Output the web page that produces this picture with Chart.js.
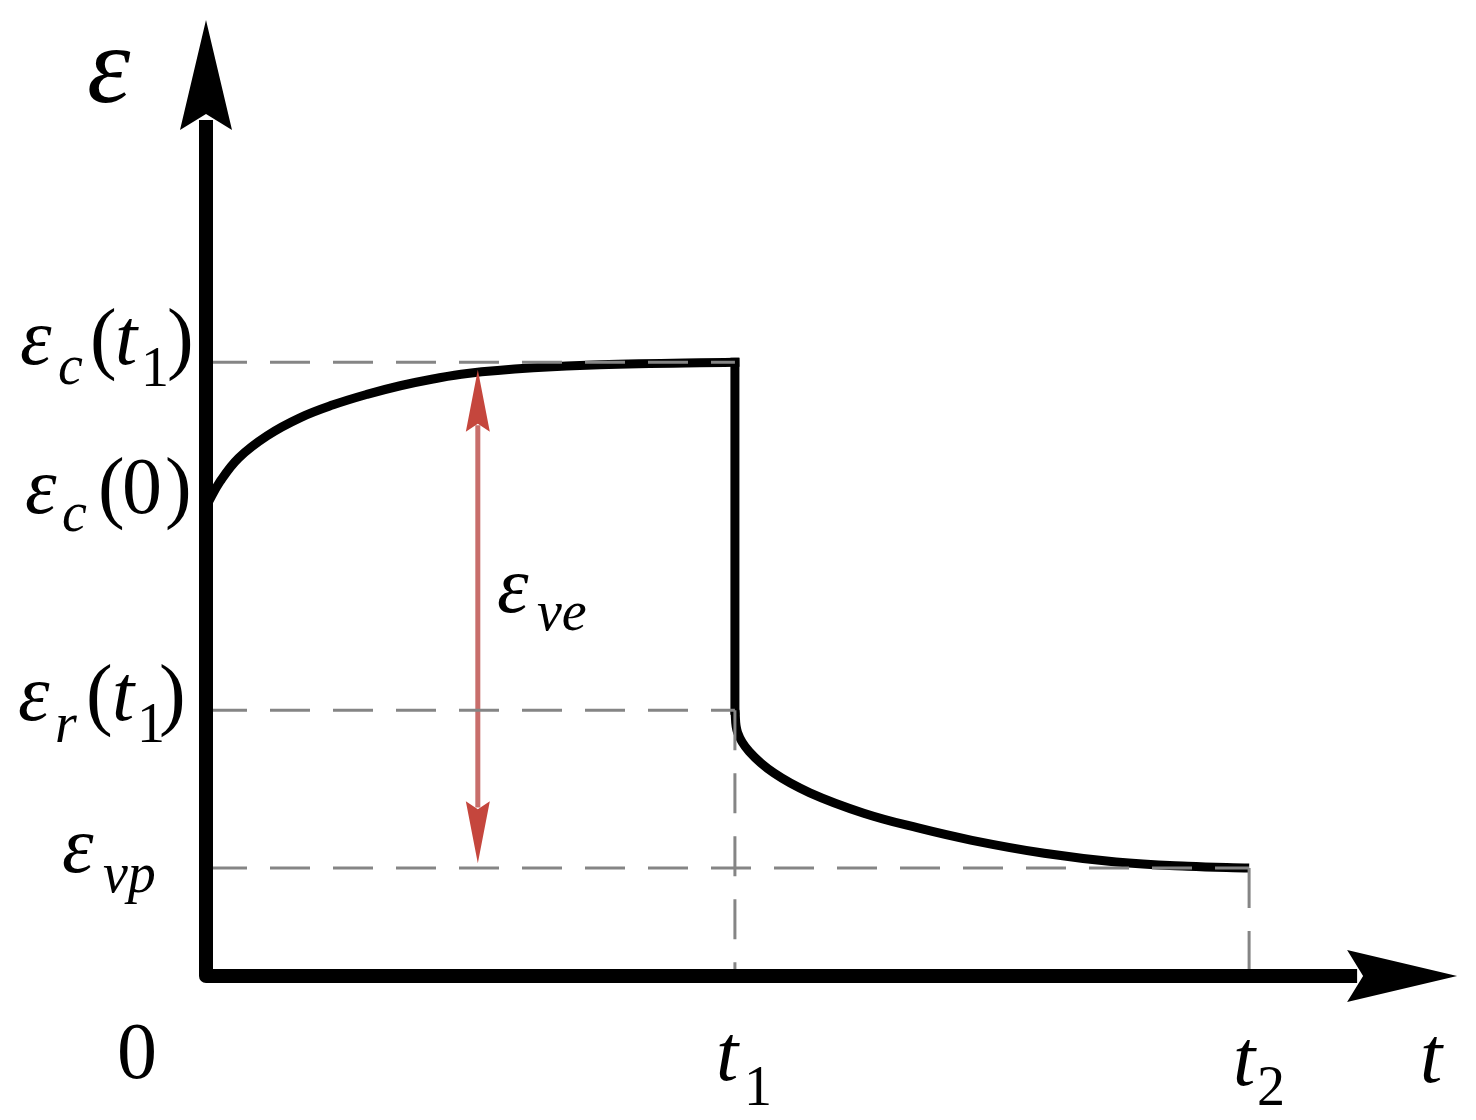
<!DOCTYPE html>
<html lang="en">
<head>
  <meta charset="UTF-8" />
  <title>Creep and recovery strain</title>
  <script src="https://cdn.jsdelivr.net/npm/chart.js"></script>
  <style>
    body {
      margin: 0;
      background: #ffffff;
    }
    #wrap {
      width: 1476px;
      height: 1120px;
    }
  </style>
</head>
<body>
  <div id="wrap">
    <canvas id="strain-chart" width="1476" height="1120"></canvas>
  </div>

  <script>
    // time axis in arbitrary units, t1 = 10
    const T1 = 10;
    const T2 = 19.74;

    // strain levels
    const EPS_C_T1 = 9.95;
    const EPS_C_0 = 7.64;
    const EPS_R_T1 = 4.31;
    const EPS_VP = 1.75;

    // creep under load (0 -> t1)
    const creepT = [0, 0.25, 0.6, 1.14, 1.76, 2.39, 3.03, 3.66, 4.28, 4.93, 6.18, 7.44, 10];
    const creepE = [7.64, 8.02, 8.40, 8.76, 9.05, 9.26, 9.43, 9.57, 9.68, 9.77, 9.86, 9.91, 9.95];

    // instant unloading at t1
    const unloadT = [10, 10];
    const unloadE = [9.95, 4.31];

    // recovery (t1 -> t2)
    const recovT = [10, 10.05, 10.27, 10.74, 11.42, 12.44, 13.47, 14.49, 15.86, 17.22, 18.58, 19.74];
    const recovE = [4.31, 3.95, 3.64, 3.29, 2.97, 2.64, 2.40, 2.20, 1.99, 1.85, 1.78, 1.75];

    // viscoelastic part arrow
    const veT = 5.13;
    const veTop = 9.83;
    const veBottom = 1.83;

    // axis extents (arrow tips)
    const X_MAX = 24;
    const Y_MAX = 15.5;
    const X_TIP = 23.68;
    const Y_TIP = 15.5;

    const pts = (xs, ys) => xs.map((x, i) => ({ x: x, y: ys[i] }));

    const GREY = "#858585";
    const dashed = (data) => ({
      data: data,
      borderColor: GREY,
      borderWidth: 3,
      borderDash: [40, 23],
      pointRadius: 0,
      fill: false,
      tension: 0
    });
    const solid = (data, extra) => Object.assign({
      data: data,
      borderColor: "#000000",
      borderWidth: 9,
      borderCapStyle: "square",
      pointRadius: 0,
      fill: false
    }, extra || {});

    const SERIF = "'Liberation Serif', 'Times New Roman', serif";

    // [text, x, baseline, size, italic]
    const labels = [
      ["\u03b5", 87, 102, 110, true],

      ["\u03b5", 20, 364, 80, true],
      ["c", 58, 384, 56, true],
      ["(", 90, 364, 80, false],
      ["t", 115, 364, 80, true],
      ["1", 141, 386, 56, false],
      [")", 167, 364, 80, false],

      ["\u03b5", 25, 513, 80, true],
      ["c", 62, 531, 56, true],
      ["(", 98, 513, 80, false],
      ["0", 122, 513, 80, false],
      [")", 165, 513, 80, false],

      ["\u03b5", 18, 720, 80, true],
      ["r", 55, 742, 56, true],
      ["(", 86, 720, 80, false],
      ["t", 112, 720, 80, true],
      ["1", 137, 742, 56, false],
      [")", 159, 720, 80, false],

      ["\u03b5", 62, 872, 80, true],
      ["vp", 103, 892, 56, true],

      ["\u03b5", 497, 612, 80, true],
      ["ve", 537, 630, 56, true],

      ["0", 117, 1078, 80, false],
      ["t", 716, 1080, 80, true],
      ["1", 744, 1105, 56, false],
      ["t", 1233, 1085, 80, true],
      ["2", 1257, 1105, 56, false],
      ["t", 1420, 1082, 80, true]
    ];

    const sketchPlugin = {
      id: "sketch",
      afterDatasetsDraw(chart) {
        const ctx = chart.ctx;
        const xs = chart.scales.x;
        const ys = chart.scales.y;
        const x0 = xs.getPixelForValue(0);
        const y0 = ys.getPixelForValue(0);
        const xTip = xs.getPixelForValue(X_TIP);
        const yTip = ys.getPixelForValue(Y_TIP);

        ctx.save();

        // axes
        ctx.strokeStyle = "#000";
        ctx.fillStyle = "#000";
        ctx.lineWidth = 14;
        ctx.lineJoin = "round";
        ctx.beginPath();
        ctx.moveTo(x0 - 1, yTip + 100);
        ctx.lineTo(x0 - 1, y0);
        ctx.lineTo(xTip - 100, y0);
        ctx.stroke();

        // y arrow head
        ctx.beginPath();
        ctx.moveTo(x0 - 1, yTip);
        ctx.lineTo(x0 + 25, yTip + 110);
        ctx.lineTo(x0 - 1, yTip + 94);
        ctx.lineTo(x0 - 27, yTip + 110);
        ctx.closePath();
        ctx.fill();

        // x arrow head
        ctx.beginPath();
        ctx.moveTo(xTip, y0);
        ctx.lineTo(xTip - 110, y0 + 26);
        ctx.lineTo(xTip - 94, y0);
        ctx.lineTo(xTip - 110, y0 - 26);
        ctx.closePath();
        ctx.fill();

        // red double arrow heads
        const ax = xs.getPixelForValue(veT);
        const aTop = ys.getPixelForValue(veTop);
        const aBot = ys.getPixelForValue(veBottom);
        ctx.fillStyle = "#c5463d";
        ctx.beginPath();
        ctx.moveTo(ax, aTop);
        ctx.lineTo(ax + 12, aTop + 62);
        ctx.lineTo(ax, aTop + 54);
        ctx.lineTo(ax - 12, aTop + 62);
        ctx.closePath();
        ctx.fill();
        ctx.beginPath();
        ctx.moveTo(ax, aBot);
        ctx.lineTo(ax + 12, aBot - 62);
        ctx.lineTo(ax, aBot - 54);
        ctx.lineTo(ax - 12, aBot - 62);
        ctx.closePath();
        ctx.fill();

        // labels
        ctx.fillStyle = "#000";
        ctx.textBaseline = "alphabetic";
        ctx.textAlign = "left";
        labels.forEach(([txt, x, y, size, it]) => {
          ctx.font = (it ? "italic " : "") + size + "px " + SERIF;
          ctx.fillText(txt, x, y);
        });

        ctx.restore();
      }
    };

    const chartCtx = document.getElementById("strain-chart").getContext("2d");

    new Chart(chartCtx, {
      type: "line",
      data: {
        datasets: [
          dashed(pts([0, T1], [EPS_C_T1, EPS_C_T1])),
          dashed(pts([0, T1], [EPS_R_T1, EPS_R_T1])),
          dashed(pts([0, T2], [EPS_VP, EPS_VP])),
          dashed(pts([T1, T1], [EPS_R_T1, 0])),
          dashed(pts([T2, T2], [EPS_VP, 0])),
          {
            data: pts([veT, veT], [veTop - 0.9, veBottom + 0.9]),
            borderColor: "#c86e6b",
            borderWidth: 5,
            pointRadius: 0,
            fill: false
          },
          solid(pts(creepT, creepE), { tension: 0.4 }),
          solid(pts(unloadT, unloadE)),
          solid(pts(recovT, recovE), { tension: 0.4, borderCapStyle: "butt" })
        ]
      },
      options: {
        responsive: false,
        animation: false,
        layout: {
          padding: { left: 207, right: 2, top: 20, bottom: 144 }
        },
        plugins: {
          legend: { display: false },
          tooltip: { enabled: false }
        },
        scales: {
          x: { type: "linear", min: 0, max: X_MAX, display: false },
          y: { type: "linear", min: 0, max: Y_MAX, display: false }
        }
      },
      plugins: [sketchPlugin]
    });
  </script>
</body>
</html>
